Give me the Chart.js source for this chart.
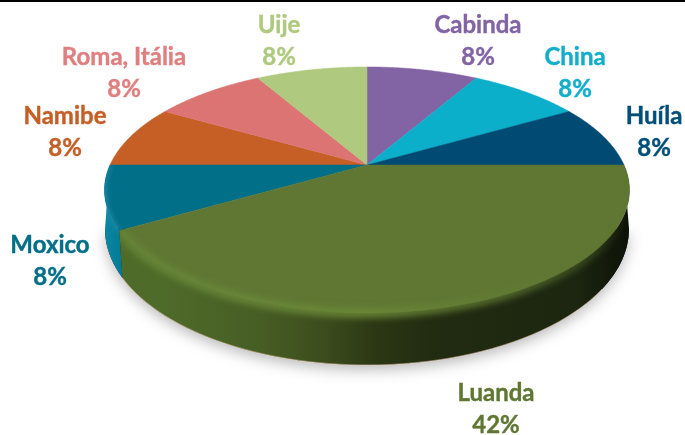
<!DOCTYPE html>
<html>
<head>
<meta charset="utf-8">
<script src="https://cdn.jsdelivr.net/npm/chart.js@4"></script>
<style>
  html, body { margin: 0; padding: 0; background: #fff; overflow: hidden; }
  #topLine { position: absolute; left: 0; top: 0; width: 685px; height: 2px; background: #000; }
  #myChart { position: absolute; left: 0; top: 0; }
</style>
</head>
<body>
<canvas id="myChart" width="685" height="435"></canvas>
<div id="topLine"></div>
<script>
// Datos del grafico
const categories = ["Cabinda", "China", "Huíla", "Luanda", "Moxico", "Namibe", "Roma, Itália", "Uije"];
const counts = [1, 1, 1, 5, 1, 1, 1, 1];
const sliceColors = ["#8264a5", "#0cafca", "#004a73", "#5f7733", "#006f87", "#c55f26", "#dc7474", "#afc97f"];
const textColors = ["#8264a5", "#12aecb", "#004f78", "#5f7733", "#006f87", "#c55f26", "#e07f7f", "#afc97f"];
// centro de cada etiqueta (x, primera linea y)
const labelX = [478, 575, 654, 496, 50, 65, 124, 279];
const labelY = [25, 57, 116, 393, 245, 116, 57, 25];

// Perspectiva de la tapa y elipse de la base
const persp = 0.2033;
const topRy = 118;
const baseRx = 262;
const baseRy = 136;
const baseDy = 64;

function topPt(arc, a) {
  const d = 1 - persp * Math.sin(a);
  return [arc.x + arc.outerRadius * Math.cos(a) / d, arc.y + topRy * Math.sin(a) / d];
}
function basePt(arc, a) {
  const b = a + 0.314 * Math.sin(a);
  return [arc.x + baseRx * Math.cos(b), arc.y + baseDy + baseRy * Math.sin(b)];
}
function sample(from, to, fn, arc) {
  const pts = [];
  const n = 60;
  for (let i = 0; i <= n; i++) {
    pts.push(fn(arc, from + (to - from) * i / n));
  }
  return pts;
}
function tracePts(ctx, pts, first) {
  pts.forEach((p, i) => {
    if (i === 0 && first) ctx.moveTo(p[0], p[1]);
    else ctx.lineTo(p[0], p[1]);
  });
}
function wallPath(ctx, arc) {
  tracePts(ctx, sample(arc.startAngle, arc.endAngle, topPt, arc), true);
  tracePts(ctx, sample(arc.endAngle, arc.startAngle, basePt, arc), false);
  ctx.closePath();
}
function topPath(ctx, arc) {
  ctx.moveTo(arc.x, arc.y);
  tracePts(ctx, sample(arc.startAngle, arc.endAngle, topPt, arc), false);
  ctx.closePath();
}

function drawTop(ctx, arc, color) {
  ctx.beginPath();
  topPath(ctx, arc);
  ctx.fillStyle = color;
  ctx.strokeStyle = color;
  ctx.lineWidth = 0.5;
  ctx.fill();
  ctx.stroke();
}

function drawWall(ctx, arc, stops) {
  const grad = ctx.createLinearGradient(arc.x - baseRx, 0, arc.x + baseRx, 0);
  stops.forEach(s => grad.addColorStop(s[0], s[1]));
  ctx.beginPath();
  wallPath(ctx, arc);
  ctx.fillStyle = grad;
  ctx.fill();
}

// borde claro y difuso de la tapa, sin salirse de la porcion
function drawRim(ctx, arc, stops, width, blur) {
  const grad = ctx.createLinearGradient(arc.x - baseRx, 0, arc.x + baseRx, 0);
  stops.forEach(s => grad.addColorStop(s[0], s[1]));
  ctx.save();
  ctx.beginPath();
  wallPath(ctx, arc);
  topPath(ctx, arc);
  ctx.clip("nonzero");
  ctx.filter = "blur(" + blur + "px)";
  ctx.beginPath();
  tracePts(ctx, sample(arc.startAngle, arc.endAngle, topPt, arc), true);
  ctx.strokeStyle = grad;
  ctx.lineWidth = width;
  ctx.lineCap = "butt";
  ctx.stroke();
  ctx.restore();
}

const pie3d = {
  id: "pie3d",
  beforeDatasetDraw(chart) {
    const ctx = chart.ctx;
    const arcs = chart.getDatasetMeta(0).data;
    const luanda = arcs[categories.indexOf("Luanda")];
    const moxico = arcs[categories.indexOf("Moxico")];

    // sombra bajo el pastel
    ctx.save();
    ctx.shadowColor = "rgba(60,60,60,0.34)";
    ctx.shadowBlur = 14;
    ctx.shadowOffsetY = 5;
    ctx.fillStyle = "#1e2810";
    ctx.beginPath();
    tracePts(ctx, sample(luanda.startAngle, moxico.endAngle, basePt, luanda), true);
    ctx.closePath();
    ctx.fill();
    ctx.restore();

    arcs.forEach((arc, i) => {
      if (arc !== luanda && arc !== moxico) drawTop(ctx, arc, sliceColors[i]);
    });

    drawWall(ctx, moxico, [[0, "#0a86a3"], [0.05, "#00738e"], [0.1, "#005f78"], [1, "#005f78"]]);
    drawTop(ctx, moxico, sliceColors[categories.indexOf("Moxico")]);
    drawRim(ctx, moxico, [[0, "rgba(30,140,168,0.8)"], [0.04, "rgba(30,140,168,0.4)"], [0.09, "rgba(0,111,135,0)"]], 5, 2);

    drawWall(ctx, luanda, [
      [0, "#4f6b29"], [0.1, "#4f6b29"], [0.3, "#465d24"], [0.42, "#3c4c1d"],
      [0.52, "#2b3714"], [0.62, "#222c11"], [0.9, "#1c2610"], [1, "#0d1208"]
    ]);
    drawTop(ctx, luanda, sliceColors[categories.indexOf("Luanda")]);
    drawRim(ctx, luanda, [
      [0, "rgba(104,136,58,0.8)"], [0.5, "rgba(108,138,56,0.85)"], [0.75, "rgba(98,124,52,0.75)"],
      [0.92, "rgba(95,119,51,0.4)"], [1, "rgba(95,119,51,0)"]
    ], 10, 3);

    // linea fina clara del contorno inferior
    ctx.beginPath();
    tracePts(ctx, sample(luanda.startAngle + 0.35, luanda.endAngle, basePt, luanda), true);
    ctx.strokeStyle = "rgba(235,200,170,0.55)";
    ctx.lineWidth = 1;
    ctx.stroke();
    return false;
  },
  afterDraw(chart) {
    const ctx = chart.ctx;
    const total = counts.reduce((a, b) => a + b, 0);
    ctx.save();
    ctx.font = "bold 24px Lato";
    ctx.textAlign = "center";
    ctx.textBaseline = "middle";
    ctx.lineWidth = 0.4;
    categories.forEach((name, i) => {
      const pct = Math.round(counts[i] / total * 100) + "%";
      ctx.fillStyle = textColors[i];
      ctx.strokeStyle = textColors[i];
      ctx.fillText(name, labelX[i], labelY[i]);
      ctx.strokeText(name, labelX[i], labelY[i]);
      ctx.fillText(pct, labelX[i], labelY[i] + 32);
      ctx.strokeText(pct, labelX[i], labelY[i] + 32);
    });
    ctx.restore();
  }
};

const ctx = document.getElementById("myChart").getContext("2d");
const myChart = new Chart(ctx, {
  type: "pie",
  data: {
    labels: categories,
    datasets: [{
      data: counts,
      backgroundColor: sliceColors,
      borderWidth: 0
    }]
  },
  options: {
    responsive: false,
    animation: false,
    radius: 257,
    layout: { padding: { left: 49, right: 0, top: 0, bottom: 105 } },
    plugins: {
      legend: { display: false },
      tooltip: { enabled: false }
    }
  },
  plugins: [pie3d]
});
</script>
</body>
</html>
